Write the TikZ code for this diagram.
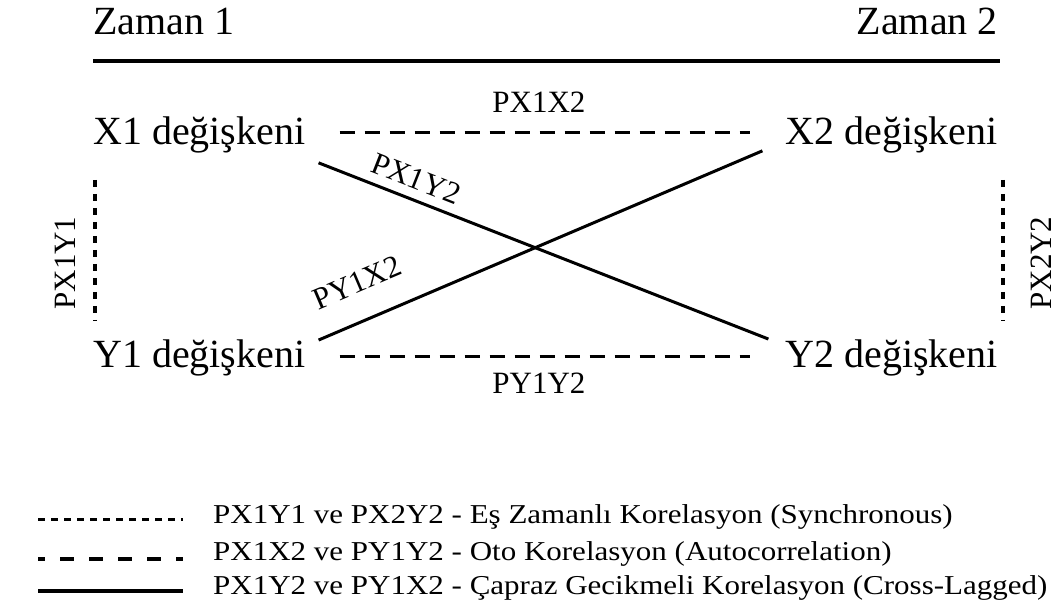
\documentclass[tikz,border=0pt]{standalone}
\usepackage{fontspec}
\setmainfont{Liberation Serif}

\begin{document}
\begin{tikzpicture}[x = 1pt, y = -1pt]

    \tikzset{
      bigtext/.style={
        inner sep=0pt,
        font=\fontsize{40}{48}\selectfont,
      },
      smalltext/.style={
        inner sep=2pt,
        font=\fontsize{31}{37}\selectfont,
      },
      legtext/.style={
        inner sep=0pt,
        anchor=base west,
        font=\fontsize{31}{37}\selectfont,
      },
      timerule/.style={line width=3.5pt},
      synchro/.style={line width=4.5pt, dash pattern=on 7pt off 7pt},
      autocorr/.style={line width=3.5pt, dash pattern=on 15pt off 10pt},
      crosslag/.style={line width=3pt},
      legsync/.style={line width=3pt, dash pattern=on 7pt off 6pt},
      legauto/.style={line width=4pt, dash pattern=on 14pt off 15pt, dash phase=7pt},
      legcross/.style={line width=4.5pt},
    }
    \useasboundingbox[fill=white] (0,0) rectangle (1060,610);

	\node[bigtext, anchor = base west] (zaman1) at (93,35) {Zaman 1};
	\node[bigtext, anchor = base east] (zaman2) at (998,35) {Zaman 2};
	\draw[color ={black}, timerule] ([shift={(0,26)}]zaman1.base west)--([shift={(2,26)}]zaman2.base east);

	\node[bigtext, anchor = base west] (x1) at (93,144) {X1 değişkeni};
	\node[bigtext, anchor = base east] (x2) at (998,144) {X2 değişkeni};
	\node[bigtext, anchor = base west] (y1) at (93,367) {Y1 değişkeni};
	\node[bigtext, anchor = base east] (y2) at (998,367) {Y2 değişkeni};

	\draw[color ={black}, autocorr] ([shift={(34,-2)}]x1.east)--([shift={(-35,-2)}]x2.west)
		node[smalltext, midway, above = 16pt, xshift = -6pt] (lx1x2) {PX1X2};
	\draw[color ={black}, autocorr] ([shift={(34,-1)}]y1.east)--([shift={(-35,-1)}]y2.west)
		node[smalltext, midway, below = 13pt, xshift = -6pt] (ly1y2) {PY1Y2};

	\draw[color ={black}, crosslag] ([shift={(13,10)}]x1.south east)--([shift={(-17,0)}]y2.north west)
		node[smalltext, pos = 0.2, sloped, above = 7pt] (lx1y2) {PX1Y2};
	\draw[color ={black}, crosslag] ([shift={(13,1)}]y1.north east)--([shift={(-23,-2)}]x2.south west)
		node[smalltext, pos = 0.12, sloped, above = 24pt] (ly1x2) {PY1X2};

	\draw[color ={black}, synchro] ([shift={(2,27)}]x1.south west)--([shift={(2,-19)}]y1.north west);
	\node[smalltext, rotate = 90] (lx1y1) at (65,263) {PX1Y1};
	\draw[color ={black}, synchro] ([shift={(5,27)}]x2.south east)--([shift={(5,-19)}]y2.north east);
	\node[smalltext, rotate = 90] (lx2y2) at (1041,263) {PX2Y2};

	\node[legtext] (leg1) at (213,523) {\scalebox{1}[0.88]{PX1Y1 ve PX2Y2 - Eş Zamanlı Korelasyon (Synchronous)}};
	\node[legtext] (leg2) at (213,560) {\scalebox{1}[0.88]{PX1X2 ve PY1Y2 - Oto Korelasyon (Autocorrelation)}};
	\node[legtext] (leg3) at (213,594) {\scalebox{1}[0.88]{PX1Y2 ve PY1X2 - Çapraz Gecikmeli Korelasyon (Cross-Lagged)}};
	\draw[color ={black}, legsync] ([shift={(-175,-4)}]leg1.base west)--([shift={(-30,-4)}]leg1.base west);
	\draw[color ={black}, legauto] ([shift={(-175,-1)}]leg2.base west)--([shift={(-30,-1)}]leg2.base west);
	\draw[color ={black}, legcross] ([shift={(-175,-3)}]leg3.base west)--([shift={(-30,-3)}]leg3.base west);

\end{tikzpicture}
\end{document}
